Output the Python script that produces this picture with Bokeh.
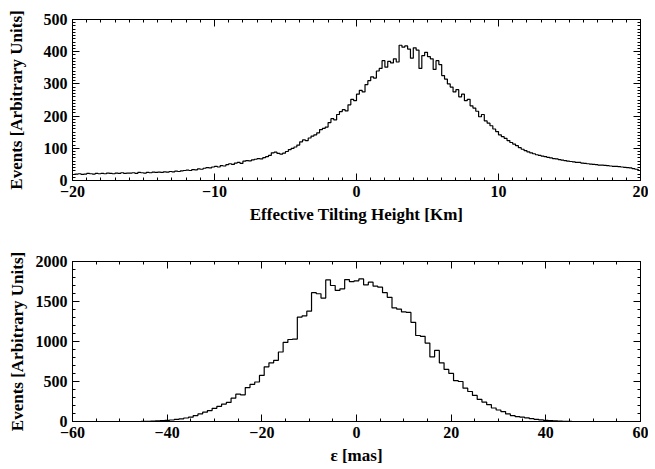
import numpy as np
from bokeh.plotting import figure
from bokeh.layouts import column
from bokeh.models import LinearAxis, Range1d, SingleIntervalTicker, CustomJSTickFormatter
from bokeh.embed import file_html
from bokeh.resources import INLINE

# ---------------- data ----------------
# Top panel: histogram of effective tilting height, bins of 0.2 km from -20 to 20 km
height_bin_start = -20.0
height_bin_width = 0.2
height_counts = [
    19, 20, 21, 19, 20, 22, 21, 20, 22, 21,        # -20 .. -18
    22, 21, 23, 22, 21, 23, 22, 24, 22, 23,        # -18 .. -16
    23, 24, 22, 25, 24, 23, 25, 24, 26, 25,        # -16 .. -14
    26, 25, 27, 26, 28, 27, 29, 28, 30, 31,        # -14 .. -12
    32, 31, 34, 33, 36, 35, 38, 40, 39, 42,        # -12 .. -10
    44, 42, 46, 45, 49, 52, 50, 54, 56, 53,        # -10 .. -8
    60, 62, 61, 64, 66, 68, 67, 71, 74, 78,        # -8 .. -6
    86, 88, 84, 82, 85, 90, 96, 100, 104, 110,     # -6 .. -4
    120, 126, 124, 132, 138, 142, 148, 158, 162, 166,  # -4 .. -2
    180, 192, 188, 205, 214, 220, 216, 235, 252, 248,  # -2 .. 0
    268, 280, 275, 298, 310, 322, 318, 340, 348, 372,  # 0 .. 2
    352, 370, 365, 378, 368, 420, 414, 418, 408, 380,  # 2 .. 4
    412, 405, 348, 388, 398, 385, 378, 345, 372, 360,  # 4 .. 6
    326, 315, 300, 290, 275, 282, 260, 268, 248, 252,  # 6 .. 8
    232, 225, 215, 198, 205, 185, 178, 170, 160, 152,  # 8 .. 10
    142, 136, 131, 124, 118, 113, 108, 102, 97, 93,    # 10 .. 12
    89, 86, 83, 80, 78, 76, 74, 72, 70, 68,            # 12 .. 14
    67, 65, 63, 62, 60, 59, 58, 56, 56, 54,            # 14 .. 16
    53, 52, 51, 50, 49, 48, 48, 47, 46, 45,            # 16 .. 18
    44, 44, 43, 42, 41, 40, 39, 37, 35, 33,            # 18 .. 20
]

# Bottom panel: histogram of epsilon, 1 mas bins centred on -60 .. 60
eps_bin_start = -60
eps_bin_width = 1
eps_counts = (
    [0] * 15 +
    [2, 3, 5, 7, 10, 14, 19, 26, 34, 44,               # -45 .. -36
     54, 74, 95, 116, 136, 165, 190, 218, 239, 292,    # -35 .. -26
     342, 333, 424, 465, 494, 576, 683, 733, 765, 869, # -25 .. -16
     988, 1025, 1030, 1305, 1320, 1379, 1610, 1597, 1543, 1770,  # -15 .. -6
     1700, 1638, 1659, 1774, 1749, 1758, 1782, 1708, 1741, 1691, # -5 .. 4
     1679, 1610, 1552, 1420, 1404, 1370, 1363, 1240, 1075, 1065, # 5 .. 14
     980, 807, 889, 733, 651, 601, 510, 500, 416, 375,           # 15 .. 24
     326, 276, 243, 210, 169, 144, 124, 95, 74, 62,              # 25 .. 34
     54, 46, 35, 27, 20, 14, 10, 7, 5, 3,                        # 35 .. 44
     2] +                                                        # 45
    [0] * 15
)

top_xlabel = "Effective Tilting Height [Km]"
bottom_xlabel = "ε [mas]"
ylabel = "Events [Arbitrary Units]"

height_centers = height_bin_start + height_bin_width * (np.arange(len(height_counts)) + 0.5)
eps_centers = eps_bin_start + eps_bin_width * np.arange(len(eps_counts))

FONT = "Liberation Serif"
TICK_FS = "16px"
LABEL_FS = "17px"


def style(p, xint, xminor, yint, yminor, ystand):
    p.xaxis.ticker = SingleIntervalTicker(interval=xint, num_minor_ticks=xminor)
    p.yaxis.ticker = SingleIntervalTicker(interval=yint, num_minor_ticks=yminor)
    p.add_layout(LinearAxis(ticker=SingleIntervalTicker(interval=xint, num_minor_ticks=xminor),
                            formatter=CustomJSTickFormatter(code="return ''")), "above")
    p.add_layout(LinearAxis(ticker=SingleIntervalTicker(interval=yint, num_minor_ticks=yminor),
                            formatter=CustomJSTickFormatter(code="return ''")), "right")
    for ax in p.axis:
        ax.axis_line_color = "black"
        ax.axis_line_width = 1
        ax.major_tick_line_color = "black"
        ax.minor_tick_line_color = "black"
        ax.major_tick_in = 7
        ax.major_tick_out = 0
        ax.minor_tick_in = 3
        ax.minor_tick_out = 0
        ax.major_label_text_font = FONT
        ax.major_label_text_font_style = "bold"
        ax.major_label_text_font_size = TICK_FS
        ax.major_label_text_color = "black"
        ax.axis_label_text_font = FONT
        ax.axis_label_text_font_style = "bold"
        ax.axis_label_text_font_size = LABEL_FS
        ax.axis_label_text_color = "black"
    p.xaxis[0].major_label_standoff = 8
    p.xaxis[0].axis_label_standoff = 1
    p.yaxis[0].major_label_standoff = 5
    p.yaxis[0].axis_label_standoff = ystand
    p.grid.visible = False
    p.outline_line_color = "black"
    p.background_fill_color = "white"
    p.border_fill_color = "white"


top = figure(width=648, height=240, output_backend="svg", toolbar_location=None,
             x_range=Range1d(-20, 20), y_range=Range1d(0, 500),
             min_border_left=72, min_border_right=8, min_border_top=19, min_border_bottom=60,
             x_axis_label=top_xlabel, y_axis_label=ylabel)
top.step(height_centers, height_counts, mode="center", line_color="black", line_width=1.2)
style(top, 10, 10, 100, 10, 15)

bot = figure(width=648, height=227, output_backend="svg", toolbar_location=None,
             x_range=Range1d(-60, 60), y_range=Range1d(0, 2000),
             min_border_left=72, min_border_right=8, min_border_top=21, min_border_bottom=44,
             x_axis_label=bottom_xlabel, y_axis_label=ylabel)
bot.step(eps_centers, eps_counts, mode="center", line_color="black", line_width=1.2)
style(bot, 20, 4, 500, 5, 6)

layout = column(top, bot, spacing=0)
open("out.html", "w").write(file_html(layout, INLINE))
